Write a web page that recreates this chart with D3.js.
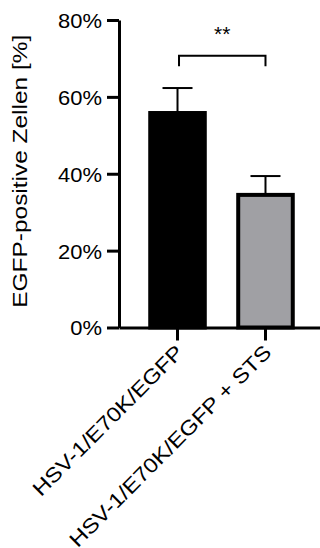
<!DOCTYPE html>
<html><head><meta charset="utf-8">
<script src="https://cdn.jsdelivr.net/npm/d3@7/dist/d3.min.js"></script>
<style>
body{margin:0;background:#fff}
svg{display:block}
text{font-family:"Liberation Sans",Arial,sans-serif;fill:#000}
</style>
</head><body>
<svg id="chart" width="320" height="548"></svg>
<script>
// ---- data ----
const categories = ["HSV-1/E70K/EGFP", "HSV-1/E70K/EGFP + STS"];
const means = [55.8, 34.5];
const errorsUp = [6.5, 4.9];
const barFills = ["#000000", "#a0a0a4"];
const yTicks = [0, 20, 40, 60, 80];
const yTitle = "EGFP-positive Zellen [%]";
const sigPair = [0, 1];
const sigLevel = 70.7;
const sigLabel = "**";

// ---- layout ----
const FONT = '"Liberation Sans",Arial,sans-serif';
const svg = d3.select("#chart");
const y = d3.scaleLinear().domain([0, 80]).range([327.5, 20]);
const x = d3.scaleBand().domain(categories).range([119, 324])
  .paddingInner(0.38).paddingOuter(0.355);
const cx = c => x(c) + x.bandwidth() / 2;

function stretch(sel, k) {
  sel.each(function () {
    const L = this.getComputedTextLength();
    d3.select(this).attr("textLength", L * k).attr("lengthAdjust", "spacingAndGlyphs");
  });
}

// error bars (upper only)
const eb = svg.append("g").attr("stroke", "#000").attr("stroke-width", 2);
categories.forEach((c, i) => {
  eb.append("line").attr("x1", cx(c)).attr("x2", cx(c))
    .attr("y1", y(means[i])).attr("y2", y(means[i] + errorsUp[i]));
  eb.append("line").attr("x1", cx(c) - 15).attr("x2", cx(c) + 15)
    .attr("y1", y(means[i] + errorsUp[i])).attr("y2", y(means[i] + errorsUp[i]));
});

// bars
svg.append("g").selectAll("rect").data(categories).join("rect")
  .attr("x", d => x(d)).attr("width", x.bandwidth())
  .attr("y", (d, i) => y(means[i]))
  .attr("height", (d, i) => y(0) - y(means[i]))
  .attr("fill", (d, i) => barFills[i])
  .attr("stroke", "#000").attr("stroke-width", 4);

// y axis
const ya = svg.append("g").attr("transform", "translate(119,0)")
  .call(d3.axisLeft(y).tickValues(yTicks).tickFormat(d => d + "%")
    .tickSize(12).tickSizeOuter(0).tickPadding(5));
ya.selectAll("path,line").attr("stroke", "#000").attr("stroke-width", 3);
ya.selectAll("text").attr("font-size", 20.5).attr("fill", "#000")
  .attr("font-family", FONT).attr("dy", "0.36em").call(stretch, 1.07);

// x axis
const xa = svg.append("g").attr("transform", "translate(0," + y(0) + ")")
  .call(d3.axisBottom(x).tickSize(13).tickSizeOuter(0));
xa.selectAll("path,line").attr("stroke", "#000").attr("stroke-width", 3);
xa.selectAll("text").remove();
xa.selectAll(".tick").append("text")
  .attr("transform", "translate(2,21) rotate(-45)")
  .attr("text-anchor", "end").attr("dy", "0.35em")
  .attr("font-size", 20.5).attr("fill", "#000")
  .attr("font-family", FONT)
  .text(d => d).call(stretch, 1.15);

// y title
svg.append("text")
  .attr("transform", "translate(27," + ((y(0) + y(80)) / 2 - 2.5) + ") rotate(-90)")
  .attr("text-anchor", "middle").attr("font-size", 19.8).text(yTitle)
  .call(stretch, 1.235);

// significance bracket
const x1 = cx(categories[sigPair[0]]) + 1.5, x2 = cx(categories[sigPair[1]]);
const yb = y(sigLevel);
svg.append("path")
  .attr("d", `M${x1},${yb + 10.5}V${yb}H${x2}V${yb + 10.5}`)
  .attr("fill", "none").attr("stroke", "#000").attr("stroke-width", 2);
svg.append("text").attr("x", (x1 + x2) / 2).attr("y", yb - 15)
  .attr("text-anchor", "middle").attr("font-size", 21).text(sigLabel);
</script>
</body></html>
